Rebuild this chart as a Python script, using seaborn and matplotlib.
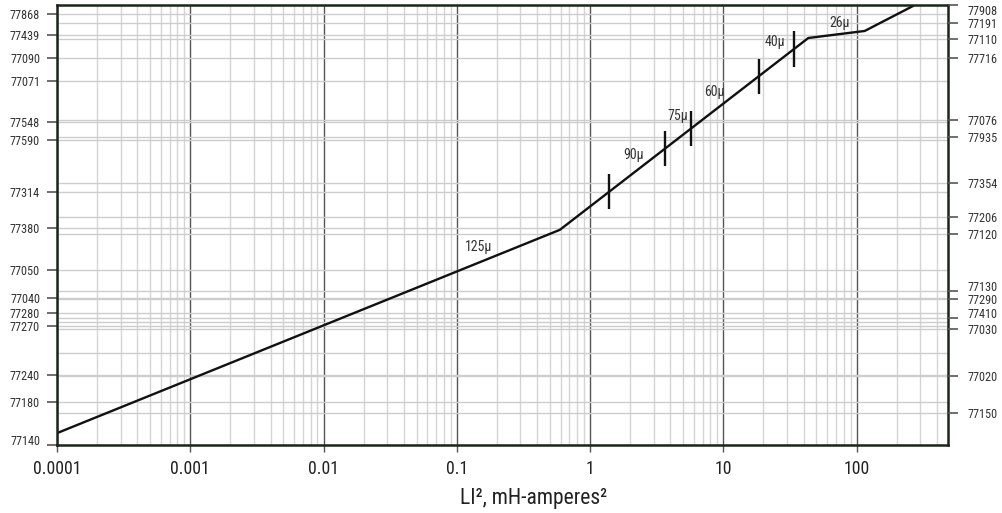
import numpy as np
import pandas as pd
import matplotlib
matplotlib.use("Agg")
import matplotlib.pyplot as plt
import seaborn as sns
from matplotlib.ticker import LogLocator, NullFormatter

# Core selector curve: LI² energy vs. position on the core-size scale (0-100)
energy = [0.0001, 0.593, 43.4, 115.0, 266.0]
core_pos = [2.7, 48.9, 92.5, 94.1, 99.8]

# Permeability break points marked along the curve
break_energy = [1.39, 3.64, 5.71, 18.5, 34.0]

# Permeability region labels
perm_labels = ["125µ", "90µ", "75µ", "60µ", "40µ", "26µ"]
label_energy = [0.146, 2.13, 4.56, 8.63, 24.4, 75.0]
label_pos = [45.0, 65.9, 74.8, 80.2, 91.6, 95.9]

# Part numbers on the left scale
left_parts = ["77868", "77439", "77090", "77071", "77548", "77590", "77314",
              "77380", "77050", "77040", "77280", "77270", "77240", "77180",
              "77140"]
left_pos = [97.95, 93.25, 87.95, 82.7, 73.4, 69.3, 57.5,
            49.3, 39.8, 33.5, 30.1, 27.0, 15.9, 9.8,
            0.0]

# Part numbers on the right scale
right_parts = ["77908", "77191", "77110", "77716", "77076", "77935", "77354",
               "77206", "77120", "77130", "77290", "77410", "77030", "77020",
               "77150"]
right_pos = [100.0, 95.8, 92.2, 87.95, 73.9, 69.9, 59.5,
             51.8, 47.9, 35.0, 33.2, 28.9, 26.3, 15.75,
             7.2]

# Unlabelled size lines
extra_grid = [28.0, 21.0]

x_ticks = [1e-4, 1e-3, 1e-2, 1e-1, 1, 10, 100]
x_tick_labels = ["0.0001", "0.001", "0.01", "0.1", "1", "10", "100"]

sns.set_style("white")
plt.rcParams["font.family"] = ["Roboto Condensed", "DejaVu Sans"]

W, H = 1003, 513
fig = plt.figure(figsize=(W / 100, H / 100), dpi=100)
ax = fig.add_axes([57 / W, 68 / H, 891 / W, 440 / H])

ax.set_xscale("log")
df = pd.DataFrame({"energy": energy, "pos": core_pos})
sns.lineplot(data=df, x="energy", y="pos", ax=ax, color="#111111",
             linewidth=1.7, sort=False, zorder=5)

# short vertical bars where permeability changes
yc = np.interp(np.log10(break_energy), np.log10(energy), core_pos)
ax.vlines(break_energy, yc - 4.0, yc + 4.0, color="#111111", linewidth=1.7, zorder=5)

for s, xe, yp in zip(perm_labels, label_energy, label_pos):
    ax.text(xe, yp, s, ha="center", va="center", fontsize=10, color="#333333", zorder=6)

ax.set_xlim(1e-4, 485)
ax.set_ylim(0, 100)

# x axis: decades with light minor grid
ax.set_xticks(x_ticks)
ax.set_xticklabels(x_tick_labels)
ax.xaxis.set_minor_locator(LogLocator(base=10, subs=range(2, 10), numticks=30))
ax.xaxis.set_minor_formatter(NullFormatter())
ax.grid(True, which="major", axis="x", color="#555555", linewidth=1.0)
ax.grid(True, which="minor", axis="x", color="#d4d4d4", linewidth=1.0)

# y axis: left part numbers; right part numbers drawn as minor grid lines
ax.set_yticks(left_pos)
ax.set_yticklabels(left_parts)
ax.set_yticks(right_pos + extra_grid, minor=True)
ax.grid(True, which="both", axis="y", color="#cdcdcd", linewidth=1.0)
ax.set_axisbelow(True)

ax.tick_params(axis="x", which="major", length=5, width=1.0, color="#555555",
               labelsize=12.8, pad=5.5, labelcolor="#222222", direction="out", bottom=True)
ax.tick_params(axis="x", which="minor", length=0)
ax.tick_params(axis="y", which="major", length=7.2, width=1.2, color="#555555",
               labelsize=8.8, pad=5, labelcolor="#333333", direction="out", left=True)
ax.tick_params(axis="y", which="minor", length=0)

for sp in ax.spines.values():
    sp.set_color("#1a261a")
    sp.set_linewidth(1.8)
    sp.set_zorder(7)

ax.set_xlabel("LI², mH-amperes²", fontsize=15.5, color="#222222")
ax.xaxis.set_label_coords(0.535, -0.098)
ax.set_ylabel("")

ax2 = ax.twinx()
ax2.set_ylim(0, 100)
ax2.set_yticks(right_pos)
ax2.set_yticklabels(right_parts)
ax2.tick_params(axis="y", which="major", length=7.2, width=1.2, color="#555555",
                labelsize=8.8, pad=6.5, labelcolor="#333333", direction="out", right=True)
ax2.tick_params(axis="y", which="minor", length=0)
ax2.grid(False)
for sp in ax2.spines.values():
    sp.set_visible(False)

# keep crowded part numbers apart
va_shift = {"77908": "top", "77130": "baseline", "77410": "baseline", "77140": "baseline"}
for lbl in ax2.get_yticklabels() + ax.get_yticklabels():
    if lbl.get_text() in va_shift:
        lbl.set_verticalalignment(va_shift[lbl.get_text()])

fig.savefig("out.png", dpi=100)
